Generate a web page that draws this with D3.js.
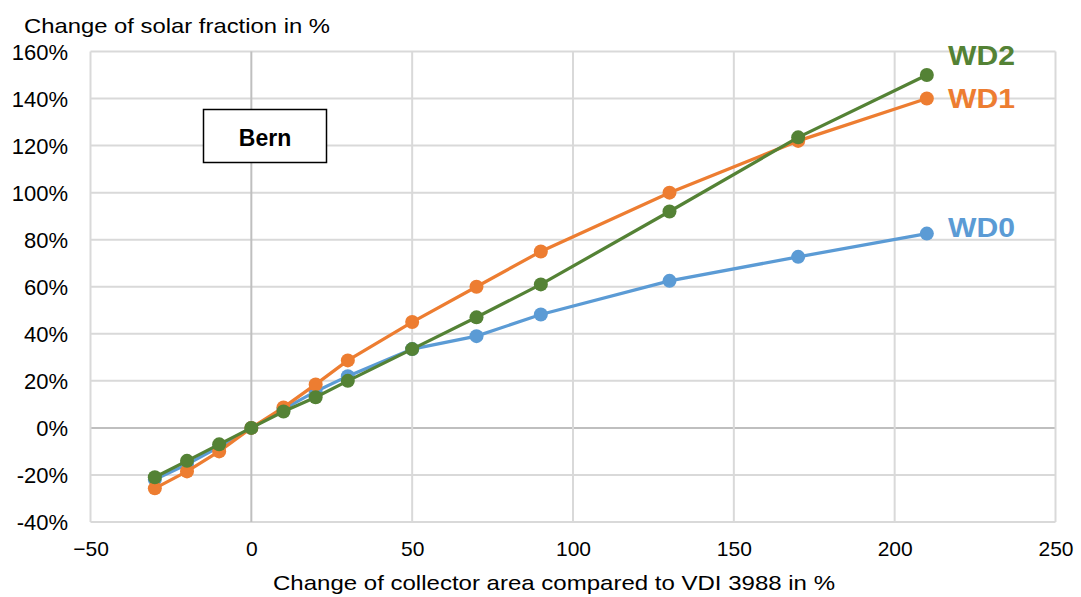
<!DOCTYPE html>
<html><head><meta charset="utf-8">
<script src="https://cdnjs.cloudflare.com/ajax/libs/d3/7.8.5/d3.min.js"></script>
<style>body{margin:0;background:#fff;}svg{display:block;font-family:"Liberation Sans",Arial,sans-serif;}</style>
</head><body><svg id="c" width="1081" height="597"></svg>
<script>
const xValues = [-30,-20,-10,0,10,20,30,50,70,90,130,170,210];
const wd0 = [-22,-15.5,-8,0,8,15.5,22,33.5,39,48.2,62.5,72.7,82.6];
const wd1 = [-25.7,-18.5,-10,0,8.7,18.5,28.7,45,60,75,100,122,140];
const wd2 = [-21,-14,-7,0,7,13,20,33.5,47,61,92,123.5,150];
const seriesNames = ["WD0","WD1","WD2"];
const xTicks = [-50,0,50,100,150,200,250];
const yTicks = [-40,-20,0,20,40,60,80,100,120,140,160];
const colors = {WD0:"#5b9bd5", WD1:"#ed7d31", WD2:"#548235"};

const svg = d3.select("#c");
const x = d3.scaleLinear().domain([-50,250]).range([90.5,1055.5]);
const y = d3.scaleLinear().domain([-40,160]).range([522,51.5]);

// grid
svg.append("g").selectAll("line").data(yTicks).join("line")
  .attr("x1",x(-50)).attr("x2",x(250)).attr("y1",d=>y(d)).attr("y2",d=>y(d))
  .attr("stroke",d=>d===0?"#bfbfbf":"#d9d9d9").attr("stroke-width",2);
svg.append("g").selectAll("line").data(xTicks).join("line")
  .attr("y1",y(-40)).attr("y2",y(160)).attr("x1",d=>x(d)).attr("x2",d=>x(d))
  .attr("stroke",d=>d===0?"#bfbfbf":"#d9d9d9").attr("stroke-width",2);

// axes
const gy = svg.append("g").attr("transform","translate(68,0)")
  .call(d3.axisLeft(y).tickValues(yTicks).tickFormat(d=>d+"%").tickSize(0).tickPadding(0));
gy.select(".domain").remove();
gy.selectAll("text").attr("font-size",22).attr("fill","#000").attr("dy","0.36em").attr("font-family","Liberation Sans, Arial, sans-serif");
const gx = svg.append("g").attr("transform","translate(0,541)")
  .call(d3.axisBottom(x).tickValues(xTicks).tickSize(0).tickPadding(0));
gx.select(".domain").remove();
gx.selectAll("text").attr("font-size",21).attr("fill","#000").attr("font-family","Liberation Sans, Arial, sans-serif");

svg.append("text").attr("x",24).attr("y",33).attr("font-size",21)
  .attr("textLength",306).attr("lengthAdjust","spacingAndGlyphs").text("Change of solar fraction in %");
svg.append("text").attr("x",273).attr("y",590).attr("font-size",21)
  .attr("textLength",562).attr("lengthAdjust","spacingAndGlyphs").text("Change of collector area compared to VDI 3988 in %");

// Bern box
svg.append("rect").attr("x",203.5).attr("y",109.5).attr("width",123).attr("height",53).attr("fill","#fff").attr("stroke","#000").attr("stroke-width",1.5);
svg.append("text").attr("x",265).attr("y",146).attr("text-anchor","middle").attr("font-size",23).attr("font-weight","bold").text("Bern");

const data = {WD0:wd0, WD1:wd1, WD2:wd2};
const line = d3.line().x((d,i)=>x(xValues[i])).y(d=>y(d));
seriesNames.forEach(n=>{
  const g = svg.append("g");
  g.append("path").datum(data[n]).attr("d",line).attr("fill","none").attr("stroke",colors[n]).attr("stroke-width",3.25);
  g.selectAll("circle").data(data[n]).join("circle").attr("cx",(d,i)=>x(xValues[i])).attr("cy",d=>y(d)).attr("r",7).attr("fill",colors[n]);
});
// end labels
const labelPos = {WD0:[948,237],WD1:[948,108],WD2:[948,65]};
seriesNames.forEach(n=>{
  svg.append("text").attr("x",labelPos[n][0]).attr("y",labelPos[n][1])
    .attr("font-size",27).attr("font-weight","bold").attr("fill",colors[n])
    .attr("textLength",67).attr("lengthAdjust","spacingAndGlyphs").text(n);
});
</script></body></html>
